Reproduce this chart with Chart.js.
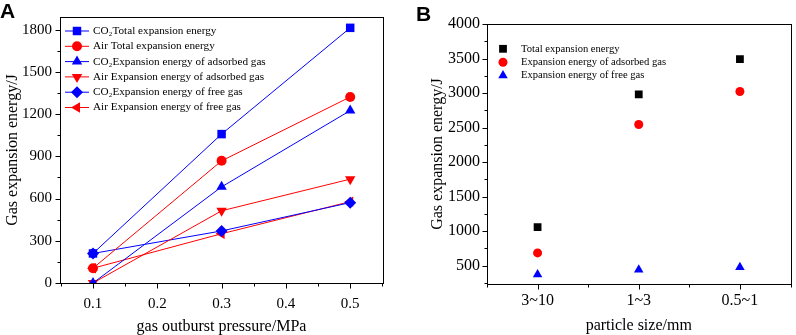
<!DOCTYPE html>
<html lang="en">
<head>
  <meta charset="UTF-8">
  <title>Gas expansion energy</title>
  <style>
    body{ margin:0; background:#fff; }
    .wrap{ position:relative; width:796px; height:335px; }
    .boxA{ position:absolute; left:0; top:0; width:400px; height:335px; }
    .boxB{ position:absolute; left:400px; top:0; width:396px; height:335px; }
    .tag{ position:absolute; font-family:"Liberation Sans", Arial, sans-serif; font-weight:bold; font-size:21px; line-height:1; }
  </style>
</head>
<body>
<div class="wrap">
  <div class="boxA"><canvas id="chartA"></canvas></div>
  <div class="boxB"><canvas id="chartB"></canvas></div>
  <div class="tag" style="left:0px;top:0px;">A</div>
  <div class="tag" style="left:416px;top:3px;">B</div>
</div>

<script src="https://cdn.jsdelivr.net/npm/chart.js"></script>
<script>
  // panel A data
  const pressure = [0.1, 0.3, 0.5];
  const co2Total = [210, 1058, 1813];
  const airTotal = [105, 868, 1322];
  const co2Adsorbed = [0, 683, 1225];
  const airAdsorbed = [0, 513, 738];
  const co2Free = [210, 370, 571];
  const airFree = [105, 350, 578];
  const xTicksA = [0.1, 0.2, 0.3, 0.4, 0.5];
  const yTicksA = [0, 300, 600, 900, 1200, 1500, 1800];

  // panel B data
  const sizeLabels = ['3~10', '1~3', '0.5~1'];
  const totalB = [1060, 2980, 3490];
  const adsorbedB = [685, 2545, 3022];
  const freeB = [372, 440, 478];
  const yTicksB = [500, 1000, 1500, 2000, 2500, 3000, 3500, 4000];

  const serif = "'Liberation Serif', 'Times New Roman', serif";
  const BLUE = '#0000ff', RED = '#ff0000';

  // frame round the plot + tick marks (major/minor) drawn outward
  const frameTicks = {
    id: 'frameTicks',
    afterDraw(chart, args, opts) {
      const ctx = chart.ctx, a = chart.chartArea;
      ctx.save();
      ctx.strokeStyle = '#000';
      ctx.lineWidth = 1;
      ctx.strokeRect(Math.round(a.left) + 0.5, Math.round(a.top) + 0.5,
        Math.round(a.right - a.left), Math.round(a.bottom - a.top));
      const doScale = (scale, majLen, minLen) => {
        const vals = scale.ticks.map(t => t.value);
        const step = vals[1] - vals[0];
        const minors = [];
        for (let v = vals[0] - step / 2; v <= scale.max + 1e-9; v += step) {
          if (v >= scale.min - 1e-9) minors.push(v);
        }
        const draw = (v, len) => {
          const p = Math.round(scale.getPixelForValue(v)) + 0.5;
          ctx.beginPath();
          if (scale.isHorizontal()) {
            const y = Math.round(a.bottom) + 0.5;
            ctx.moveTo(p, y); ctx.lineTo(p, y + len);
          } else {
            const x = Math.round(a.left) + 0.5;
            ctx.moveTo(x, p); ctx.lineTo(x - len, p);
          }
          ctx.stroke();
        };
        vals.forEach(v => draw(v, majLen));
        minors.forEach(v => draw(v, minLen));
      };
      doScale(chart.scales.x, 5, 3);
      doScale(chart.scales.y, 5, 3);
      ctx.restore();
    }
  };

  // legend drawn inside the plot area
  const innerLegend = {
    id: 'innerLegend',
    afterDatasetsDraw(chart, args, opts) {
      const ctx = chart.ctx, a = chart.chartArea;
      ctx.save();
      ctx.font = opts.font;
      ctx.textBaseline = 'middle';
      ctx.fillStyle = '#000';
      chart.data.datasets.forEach((ds, i) => {
        const y = a.top + opts.top + i * opts.gap;
        const mx = a.left + opts.markerX;
        if (opts.line) {
          ctx.strokeStyle = ds.borderColor;
          ctx.lineWidth = 1;
          ctx.beginPath();
          ctx.moveTo(a.left + opts.markerX - 12, y);
          ctx.lineTo(a.left + opts.markerX + 12, y);
          ctx.stroke();
        }
        ctx.fillStyle = ds.pointBackgroundColor;
        ctx.strokeStyle = ds.pointBackgroundColor;
        Chart.helpers.drawPoint(ctx, {
          pointStyle: ds.pointStyle,
          rotation: ds.pointRotation || 0,
          radius: ds.pointRadius,
          borderWidth: 0
        }, mx, y);
        ctx.fillStyle = '#000';
        ctx.fillText(ds.label, a.left + opts.textX, y);
      });
      ctx.restore();
    }
  };

  function lineSet(label, data, color, style, rot, r) {
    return {
      label: label,
      data: data.map((v, i) => ({ x: pressure[i], y: v })),
      borderColor: color,
      backgroundColor: color,
      pointBackgroundColor: color,
      pointBorderColor: color,
      pointBorderWidth: 0,
      borderWidth: 1,
      pointStyle: style,
      pointRotation: rot,
      pointRadius: r,
      tension: 0
    };
  }

  new Chart(document.getElementById('chartA'), {
    type: 'line',
    data: {
      datasets: [
        lineSet('CO\u2082Total expansion energy', co2Total, BLUE, 'rect', 0, 6),
        lineSet('Air Total expansion energy', airTotal, RED, 'circle', 0, 5),
        lineSet('CO\u2082Expansion energy of adsorbed gas', co2Adsorbed, BLUE, 'triangle', 0, 6),
        lineSet('Air Expansion energy of adsorbed gas', airAdsorbed, RED, 'triangle', 180, 6),
        lineSet('CO\u2082Expansion energy of free gas', co2Free, BLUE, 'rectRot', 0, 6),
        lineSet('Air Expansion energy of free gas', airFree, RED, 'triangle', 270, 6)
      ]
    },
    options: {
      responsive: true,
      maintainAspectRatio: false,
      animation: false,
      layout: { padding: { left: 0, top: 12, right: 17, bottom: 0 } },
      plugins: {
        legend: { display: false },
        tooltip: { enabled: false },
        innerLegend: { font: '11.2px ' + serif, top: 14, gap: 15.3, markerX: 17, textX: 33, line: true }
      },
      scales: {
        x: {
          type: 'linear', min: 0.0487, max: 0.551,
          afterBuildTicks: s => { s.ticks = xTicksA.map(v => ({ value: v })); },
          afterFit: s => { s.height = 52; },
          grid: { display: false, drawTicks: false },
          border: { display: false },
          ticks: { color: '#000', font: { family: serif, size: 15 }, padding: 12, callback: v => v.toFixed(1) },
          title: { display: true, text: 'gas outburst pressure/MPa', color: '#000', font: { family: serif, size: 16 }, padding: { top: 0, bottom: -1 } }
        },
        y: {
          min: 0, max: 1890,
          afterBuildTicks: s => { s.ticks = yTicksA.map(v => ({ value: v })); },
          afterFit: s => { s.width = 60; },
          grid: { display: false, drawTicks: false },
          border: { display: false },
          ticks: { color: '#000', font: { family: serif, size: 15 }, padding: 8, callback: v => String(v) },
          title: { display: true, text: 'Gas expansion energy/J', color: '#000', font: { family: serif, size: 16 }, padding: { top: 3, bottom: 0 } }
        }
      }
    },
    plugins: [frameTicks, innerLegend]
  });

  function scatterSet(label, data, color, style, r) {
    return {
      label: label,
      data: data.map((v, i) => ({ x: i + 1, y: v })),
      backgroundColor: color,
      borderColor: color,
      pointBackgroundColor: color,
      pointBorderWidth: 0,
      pointStyle: style,
      pointRadius: r
    };
  }

  new Chart(document.getElementById('chartB'), {
    type: 'scatter',
    data: {
      datasets: [
        scatterSet('Total expansion energy', totalB, '#000', 'rect', 5.5),
        scatterSet('Expansion energy of adsorbed gas', adsorbedB, RED, 'circle', 4.5),
        scatterSet('Expansion energy of free gas', freeB, BLUE, 'triangle', 5.5)
      ]
    },
    options: {
      responsive: true,
      maintainAspectRatio: false,
      animation: false,
      layout: { padding: { left: 0, top: 24, right: 1, bottom: 0 } },
      plugins: {
        legend: { display: false },
        tooltip: { enabled: false },
        innerLegend: { font: '10.6px ' + serif, top: 24.8, gap: 13.4, markerX: 16, textX: 34, line: false }
      },
      scales: {
        x: {
          type: 'linear', min: 0.5, max: 3.5,
          afterBuildTicks: s => { s.ticks = sizeLabels.map((l, i) => ({ value: i + 1 })); },
          afterFit: s => { s.height = 51; },
          grid: { display: false, drawTicks: false },
          border: { display: false },
          ticks: { color: '#000', font: { family: serif, size: 16 }, padding: 7, callback: v => sizeLabels[Math.round(v) - 1] },
          title: { display: true, text: 'particle size/mm', color: '#000', font: { family: serif, size: 16 }, padding: { top: 0, bottom: 0 } }
        },
        y: {
          min: 235, max: 4000,
          afterBuildTicks: s => { s.ticks = yTicksB.map(v => ({ value: v })); },
          afterFit: s => { s.width = 87; },
          grid: { display: false, drawTicks: false },
          border: { display: false },
          ticks: { color: '#000', font: { family: serif, size: 16 }, padding: 7, callback: v => String(v) },
          title: { display: true, text: 'Gas expansion energy/J', color: '#000', font: { family: serif, size: 16 }, padding: { top: 28, bottom: 0 } }
        }
      }
    },
    plugins: [frameTicks, innerLegend]
  });
</script>
</body>
</html>
